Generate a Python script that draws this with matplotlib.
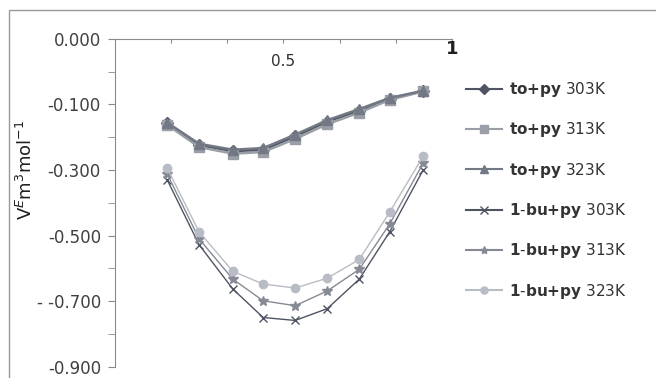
import matplotlib
matplotlib.use("Agg")
import matplotlib.pyplot as plt
from matplotlib.patches import Rectangle

# fracção molar e V^E
x = [0.155, 0.25, 0.35, 0.44, 0.535, 0.63, 0.725, 0.815, 0.915]

to_py_303 = [-0.258, -0.324, -0.342, -0.339, -0.297, -0.252, -0.219, -0.183, -0.159]
to_py_313 = [-0.262, -0.330, -0.350, -0.345, -0.305, -0.260, -0.225, -0.186, -0.160]
to_py_323 = [-0.255, -0.320, -0.338, -0.333, -0.292, -0.248, -0.214, -0.180, -0.158]

bu_py_303 = [-0.429, -0.628, -0.763, -0.850, -0.859, -0.823, -0.733, -0.589, -0.399]
bu_py_313 = [-0.411, -0.610, -0.733, -0.799, -0.814, -0.769, -0.703, -0.565, -0.378]
bu_py_323 = [-0.393, -0.589, -0.709, -0.748, -0.760, -0.730, -0.673, -0.529, -0.357]

rotulos = [r"$\mathbf{to{+}py}$ 303K", r"$\mathbf{to{+}py}$ 313K", r"$\mathbf{to{+}py}$ 323K",
           r"$\mathbf{1\text{-}bu{+}py}$ 303K", r"$\mathbf{1\text{-}bu{+}py}$ 313K",
           r"$\mathbf{1\text{-}bu{+}py}$ 323K"]
yticks = [0.0, -0.2, -0.4, -0.6, -0.8, -1.0]
ytick_labels = ["0.000", "-0.100", "-0.300", "-0.500", "- -0.700", "-0.900"]

fig = plt.figure(figsize=(6.56, 3.78), dpi=100)
ax = fig.add_axes([0.175, 0.03, 0.514, 0.867])

series = [to_py_303, to_py_313, to_py_323, bu_py_303, bu_py_313, bu_py_323]
estilos = [
    dict(color="#4e5461", marker="D", markersize=6, lw=1.8),
    dict(color="#9a9ea6", marker="s", markersize=7, lw=1.8),
    dict(color="#737885", marker="^", markersize=7, lw=1.8),
    dict(color="#4e5461", marker="x", markersize=6, lw=1.0),
    dict(color="#858a95", marker="*", markersize=7, lw=1.0),
    dict(color="#b8bcc4", marker="o", markersize=6, lw=1.0),
]
for s, rot, est in zip(series, rotulos, estilos):
    ax.plot(x, s, label=rot, **est)

ax.set_xlim(0, 1)
ax.set_ylim(-1.0, 0)
ax.spines["right"].set_visible(False)
ax.spines["bottom"].set_visible(False)
ax.spines["top"].set_color("#8a8a8a")
ax.spines["left"].set_color("#8a8a8a")

ax.set_xticks([k / 6 for k in range(1, 7)])
ax.tick_params(axis="x", bottom=False, labelbottom=False, top=True, direction="in",
               length=3, color="#8a8a8a")
ax.set_yticks(yticks)
ax.set_yticklabels(ytick_labels)
ax.set_yticks([-0.1, -0.3, -0.5, -0.7, -0.9], minor=True)
ax.tick_params(axis="y", which="both", direction="out", length=5, color="#8a8a8a",
               labelsize=12, labelcolor="#404040", pad=5)

ax.text(0.5, -0.045, "0.5", ha="center", va="top", fontsize=11, color="#303030")
ax.text(1.0, -0.003, "1", ha="center", va="top", fontsize=13, color="#202020",
        fontweight="bold", clip_on=False)

fig.text(0.04, 0.55, r"V$^{E}$m$^{3}$mol$^{-1}$", rotation=90, ha="center",
         va="center", fontsize=13, color="#202020")

leg = fig.legend(loc="upper left", bbox_to_anchor=(0.69, 0.825), frameon=False,
                 fontsize=11, labelspacing=1.4, handlelength=2.3, handletextpad=0.5,
                 labelcolor="#333333", markerscale=0.85)
for linha in leg.get_lines():
    linha.set_linewidth(1.5)

fig.patches.append(Rectangle((9 / 656, -0.1), 1.1, 0.9735 + 0.1, transform=fig.transFigure,
                             fill=False, edgecolor="#999999", lw=1, clip_on=False))

fig.savefig("out.png", dpi=100)
